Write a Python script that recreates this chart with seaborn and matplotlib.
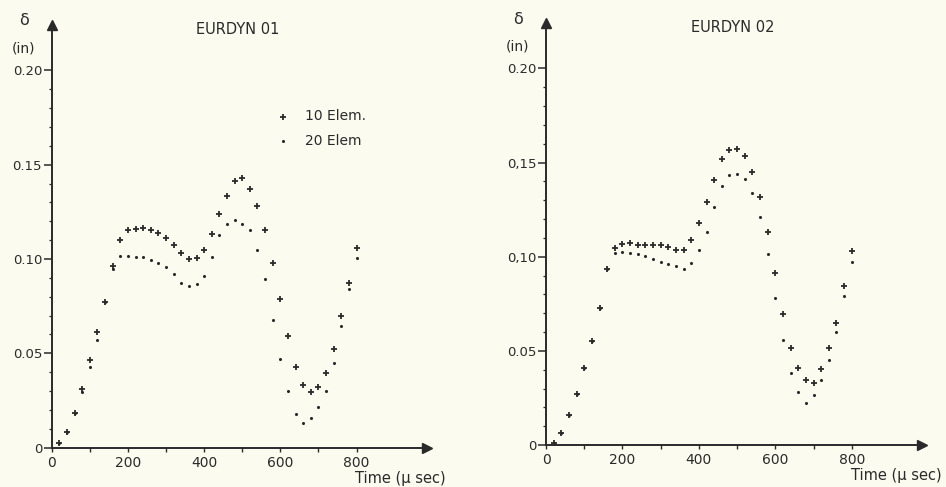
import pandas as pd
import seaborn as sns
import matplotlib.pyplot as plt
from matplotlib.ticker import FixedLocator

# time steps (micro seconds)
time_us = [20, 40, 60, 80, 100, 120, 140, 160, 180, 200,
           220, 240, 260, 280, 300, 320, 340, 360, 380, 400,
           420, 440, 460, 480, 500, 520, 540, 560, 580, 600,
           620, 640, 660, 680, 700, 720, 740, 760, 780, 800]

# EURDYN 01 - displacement (in)
e01_10 = [0.0027, 0.0085, 0.0186, 0.0310, 0.0465, 0.0615, 0.0770, 0.0964, 0.1098, 0.1155,
          0.1158, 0.1162, 0.1155, 0.1137, 0.1112, 0.1075, 0.1034, 0.0999, 0.1004, 0.1049,
          0.1133, 0.1238, 0.1335, 0.1415, 0.1429, 0.1372, 0.1279, 0.1155, 0.0981, 0.0789,
          0.0594, 0.0430, 0.0332, 0.0297, 0.0324, 0.0394, 0.0522, 0.0698, 0.0875, 0.1057]
e01_20 = [0.0027, 0.0085, 0.0186, 0.0297, 0.0430, 0.0570, 0.0770, 0.0946, 0.1017, 0.1017,
          0.1013, 0.1008, 0.0996, 0.0978, 0.0955, 0.0921, 0.0875, 0.0858, 0.0868, 0.0911,
          0.1010, 0.1125, 0.1187, 0.1204, 0.1187, 0.1155, 0.1045, 0.0893, 0.0677, 0.0469,
          0.0302, 0.0177, 0.0133, 0.0159, 0.0214, 0.0301, 0.0451, 0.0645, 0.0843, 0.1004]

# EURDYN 02 - displacement (in)
e02_10 = [0.0010, 0.0065, 0.0160, 0.0270, 0.0410, 0.0550, 0.0726, 0.0933, 0.1044, 0.1067,
          0.1071, 0.1065, 0.1060, 0.1060, 0.1064, 0.1050, 0.1035, 0.1035, 0.1088, 0.1180,
          0.1292, 0.1407, 0.1517, 0.1566, 0.1572, 0.1536, 0.1451, 0.1319, 0.1133, 0.0912,
          0.0696, 0.0517, 0.0407, 0.0345, 0.0327, 0.0402, 0.0513, 0.0646, 0.0844, 0.1032]
e02_20 = [0.0010, 0.0065, 0.0160, 0.0270, 0.0410, 0.0550, 0.0726, 0.0933, 0.1021, 0.1027,
          0.1018, 0.1014, 0.1004, 0.0986, 0.0973, 0.0961, 0.0950, 0.0933, 0.0965, 0.1035,
          0.1133, 0.1265, 0.1375, 0.1434, 0.1439, 0.1412, 0.1336, 0.1212, 0.1014, 0.0782,
          0.0558, 0.0384, 0.0280, 0.0225, 0.0265, 0.0345, 0.0451, 0.0602, 0.0791, 0.0973]

titles = ["EURDYN 01", "EURDYN 02"]
series_names = ["10 Elem.", "20 Elem"]
y_ticks = [0, 0.05, 0.10, 0.15, 0.20]
y_labels = [["0", "0.05", "0.10", "0.15", "0.20"],
            ["0", "0.05", "0,10", "0,15", "0.20"]]
x_ticks = [0, 200, 400, 600, 800]

bg = "#fbfbef"
ink = "#2a2a2a"

sns.set_style("ticks")
plt.rcParams["font.family"] = ["DejaVu Sans"]

fig = plt.figure(figsize=(9.46, 4.87), dpi=100, facecolor=bg)

positions = [[0.0547, 0.0807, 0.3967, 0.868],
             [0.5772, 0.0862, 0.3979, 0.866]]
data = [(e01_10, e01_20), (e02_10, e02_20)]

for k in range(2):
    ax = fig.add_axes(positions[k])
    ax.set_facecolor(bg)
    d10, d20 = data[k]
    df = pd.DataFrame({"time": time_us * 2,
                       "delta": d10 + d20,
                       "model": [series_names[0]] * len(time_us) + [series_names[1]] * len(time_us)})
    sns.scatterplot(data=df[df.model == series_names[0]], x="time", y="delta", ax=ax,
                    marker="+", s=20, linewidth=1.3, color=ink, label=series_names[0], zorder=3)
    sns.scatterplot(data=df[df.model == series_names[1]], x="time", y="delta", ax=ax,
                    marker="o", s=5, linewidth=0, color=ink, label=series_names[1], zorder=3)

    ax.set_xlim(0, 985)
    ax.set_ylim(0, 0.224)
    sns.despine(ax=ax)
    for s in ["left", "bottom"]:
        ax.spines[s].set_color(ink)
        ax.spines[s].set_linewidth(1.4)

    # arrow heads on the axes
    ax.plot(1, 0, marker=">", ms=7, color=ink, transform=ax.get_yaxis_transform(), clip_on=False)
    ax.plot(0, 1, marker="^", ms=7, color=ink, transform=ax.get_xaxis_transform(), clip_on=False)

    ax.set_yticks(y_ticks)
    ax.set_yticklabels(y_labels[k])
    ax.yaxis.set_minor_locator(FixedLocator([i / 100 for i in range(1, 20) if i % 5 != 0]))
    ax.set_xticks(x_ticks)
    ax.set_xticklabels([str(v) for v in x_ticks])
    ax.xaxis.set_minor_locator(FixedLocator([100, 300, 500, 700]))
    ax.tick_params(axis="y", which="major", length=6, width=1.1, color=ink, labelsize=9.5,
                   labelcolor=ink, pad=1)
    ax.tick_params(axis="y", which="minor", length=2.5, width=0.9, color=ink)
    ax.tick_params(axis="x", which="both", length=3, width=1.0, color=ink, labelsize=10,
                   labelcolor=ink, pad=3)

    ax.set_xlabel("")
    ax.set_ylabel("")
    ax.text(0.495, 0.99, titles[k], transform=ax.transAxes, fontsize=10.5, color=ink,
            ha="center", va="center")

    ax.text(-0.075, 1.01, "δ", transform=ax.transAxes, fontsize=11.5, color=ink, ha="center", va="center")
    ax.text(-0.075, 0.945, "(in)", transform=ax.transAxes, fontsize=10, color=ink, ha="center", va="center")
    ax.text(1.05, -0.072, "Time (μ sec)", transform=ax.transAxes, fontsize=10.5, color=ink,
            ha="right", va="center")

    if k == 0:
        ax.legend(loc="upper left", bbox_to_anchor=(0.545, 0.83), frameon=False, fontsize=10,
                  handletextpad=0.6, labelspacing=0.75, markerscale=1.0, labelcolor=ink)
    else:
        ax.get_legend().remove()

fig.savefig("out.png", dpi=100, facecolor=bg)
